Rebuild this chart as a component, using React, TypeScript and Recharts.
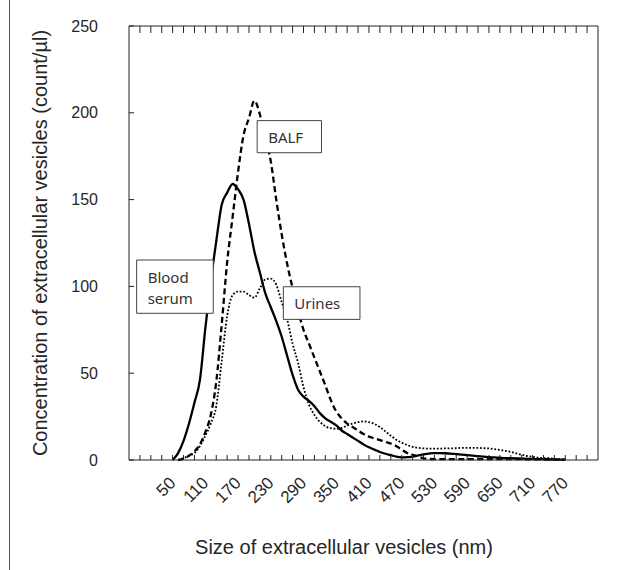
import { LineChart, Line, XAxis, YAxis, ReferenceArea, Label } from "recharts"

// particle size (nm), one point every 10 nm
const sizes = [
  50, 60, 70, 80, 90, 100, 110, 120, 130, 140,
  150, 160, 170, 180, 190, 200, 210, 220, 230, 240,
  250, 260, 270, 280, 290, 300, 310, 320, 330, 340,
  350, 360, 370, 380, 390, 400, 410, 420, 430, 440,
  450, 460, 470, 480, 490, 500, 510, 520, 530, 540,
  550, 560, 570, 580, 590, 600, 610, 620, 630, 640,
  650, 660, 670, 680, 690, 700, 710, 720, 730, 740,
  750, 760, 770,
]

const bloodSerum = [
  0, 4, 11, 21, 33, 46, 76, 103, 126, 147,
  154, 159, 156, 150, 136, 120, 108, 96, 88, 80,
  71, 60, 49, 40.5, 36.5, 34, 31, 27, 24, 22,
  20, 17, 15, 13, 11, 9, 7.3, 6, 4.6, 3.6,
  2.8, 1.9, 1.5, 1.6, 2, 2.6, 3.2, 3.7, 4, 4,
  3.9, 3.7, 3.4, 3.1, 2.8, 2.5, 2.2, 2, 1.7, 1.5,
  1.3, 1.1, 1, 0.9, 0.8, 0.7, 0.6, 0.5, 0.5, 0.4,
  0.3, 0.2, 0.1,
]

const balf = [
  null, 0, 0.8, 2.5, 5, 9, 16, 26, 45, 78,
  114, 140, 166, 187, 197, 207, 199, 186, 172, 150,
  130, 113, 99, 86, 75, 67, 59, 51, 43, 34.5,
  28, 24, 21, 19, 17, 15, 13.5, 12.5, 11.5, 10.5,
  9.5, 8, 6, 4, 3, 2, 1, 0.6, 0.5, 0.5,
  0.5, 0.5, 0.5, 0.5, 0.5, 0.5, 0.5, 0.5, 0.5, 0.5,
  0.5, 0.5, 0.5, 0.5, 0.5, 0.4, 0.4, 0.4, 0.3, 0.3,
  0.3, 0.2, 0.2,
]

const urines = [
  null, 0, 1, 2.5, 4, 8, 14, 21, 31, 57,
  83, 95, 97, 97, 95, 93.5, 99, 104, 104.5, 101,
  91, 81, 67, 56, 42, 32, 26, 22, 19.5, 18.3,
  18, 18.5, 19.8, 21, 21.8, 22.2, 21.8, 20.8, 19, 16.5,
  14, 11.7, 10, 8.6, 7.6, 7, 6.7, 6.5, 6.5, 6.5,
  6.7, 6.7, 6.8, 7, 7, 7, 7, 6.8, 6.7, 6.3,
  5.8, 5.2, 4.7, 3.8, 3, 2.3, 1.8, 1.4, 1.1, 1,
  0.7, 0.5, 0.3,
]

// minor tick marks every 20 nm, labels every 60 nm
const xTicks = [
  -10, 10, 30, 50, 70, 90, 110, 130, 150, 170, 190, 210, 230, 250, 270,
  290, 310, 330, 350, 370, 390, 410, 430, 450, 470, 490, 510, 530, 550,
  570, 590, 610, 630, 650, 670, 690, 710, 730, 750, 770, 790, 810,
]
const xLabels = [50, 110, 170, 230, 290, 350, 410, 470, 530, 590, 650, 710, 770]
const yTicks = [0, 50, 100, 150, 200, 250]

const data = sizes.map((s, i) => ({
  size: s,
  serum: bloodSerum[i],
  balf: balf[i],
  urines: urines[i],
}))

const AXIS = "#222"
const TEXT = "#262626"
const TICK_FONT = "'Liberation Sans', Arial, sans-serif"

// bottom axis: inward tick every 20 nm, rotated label every 60 nm
function SizeTick(props: any) {
  const { x, y, payload } = props
  const labelled = xLabels.includes(payload.value)
  const ax = x + 4
  const ay = y + 24
  return (
    <g>
      <line x1={x} y1={y} x2={x} y2={y - 5} stroke={AXIS} />
      {labelled && (
        <text
          x={ax}
          y={ay}
          transform={`rotate(-45 ${ax} ${ay})`}
          textAnchor="end"
          fontSize={17}
          fontFamily={TICK_FONT}
          fill={TEXT}
        >
          {payload.value}
        </text>
      )}
    </g>
  )
}

function TopTick(props: any) {
  const { x, y } = props
  return <line x1={x} y1={y} x2={x} y2={y + 7} stroke={AXIS} />
}

function ValueTick(props: any) {
  const { x, y, payload } = props
  return (
    <g>
      <line x1={x} y1={y} x2={x + 5} y2={y} stroke={AXIS} />
      <text
        x={x - 31}
        y={y + 5.5}
        textAnchor="end"
        fontSize={16}
        fontFamily={TICK_FONT}
        fill={TEXT}
      >
        {payload.value}
      </text>
    </g>
  )
}

function boxLabel(lines: string[]) {
  return (props: any) => {
    const vb = props.viewBox
    return (
      <text fontSize={15} fontFamily="'Noto Sans', sans-serif" fill="#333">
        {lines.map((l, i) => (
          <tspan key={l} x={vb.x + 11} y={vb.y + 22.5 + i * 21.5}>
            {l}
          </tspan>
        ))}
      </text>
    )
  }
}

export default function App() {
  return (
    <div style={{ position: "absolute", left: 0, top: 0, width: 631, height: 570, background: "#fff" }}>
      <div style={{ position: "absolute", left: 9, top: 0, width: 1, height: 570, background: "#555" }} />
      <LineChart
        width={631}
        height={570}
        data={data}
        margin={{ top: 25, right: 32, bottom: 0, left: 29 }}
      >
        <XAxis
          xAxisId="bottom"
          dataKey="size"
          type="number"
          domain={[-30, 830]}
          ticks={xTicks}
          interval={0}
          height={110}
          stroke={AXIS}
          tickSize={0}
          tickMargin={0}
          tickLine={false}
          tick={<SizeTick />}
        >
          <Label
            content={(p: any) => (
              <text
                x={p.viewBox.x + 215}
                y={554}
                textAnchor="middle"
                fontSize={20}
                fontFamily={TICK_FONT}
                fill={TEXT}
              >
                Size of extracellular vesicles (nm)
              </text>
            )}
          />
        </XAxis>
        <XAxis
          xAxisId="top"
          orientation="top"
          dataKey="size"
          type="number"
          domain={[-30, 830]}
          ticks={xTicks}
          interval={0}
          height={1}
          stroke={AXIS}
          tickSize={0}
          tickMargin={0}
          tickLine={false}
          tick={<TopTick />}
        />
        <YAxis
          yAxisId="left"
          domain={[0, 250]}
          ticks={yTicks}
          interval={0}
          width={100}
          stroke={AXIS}
          tickSize={0}
          tickMargin={0}
          tickLine={false}
          tick={<ValueTick />}
        >
          <Label
            content={(p: any) => {
              const cx = 47
              const cy = p.viewBox.y + p.viewBox.height / 2
              return (
                <text
                  x={cx}
                  y={cy}
                  transform={`rotate(-90 ${cx} ${cy})`}
                  textAnchor="middle"
                  fontSize={20}
                  fontFamily={TICK_FONT}
                  fill={TEXT}
                >
                  Concentration of extracellular vesicles (count/µl)
                </text>
              )
            }}
          />
        </YAxis>
        <YAxis
          yAxisId="right"
          orientation="right"
          domain={[0, 250]}
          width={1}
          stroke={AXIS}
          tick={false}
          tickLine={false}
        />
        <Line
          xAxisId="bottom"
          yAxisId="left"
          dataKey="serum"
          type="monotone"
          stroke="#000"
          strokeWidth={2.3}
          dot={false}
          activeDot={false}
          isAnimationActive={false}
        />
        <Line
          xAxisId="bottom"
          yAxisId="left"
          dataKey="balf"
          type="monotone"
          stroke="#000"
          strokeWidth={2.3}
          strokeDasharray="6 3.5"
          dot={false}
          activeDot={false}
          isAnimationActive={false}
        />
        <Line
          xAxisId="bottom"
          yAxisId="left"
          dataKey="urines"
          type="monotone"
          stroke="#000"
          strokeWidth={1.8}
          strokeDasharray="1.8 1.8"
          dot={false}
          activeDot={false}
          isAnimationActive={false}
        />
        <ReferenceArea
          xAxisId="bottom"
          yAxisId="left"
          x1={205}
          x2={323}
          y1={177}
          y2={195.5}
          fill="#fff"
          fillOpacity={1}
          stroke="#444"
          strokeWidth={1}
          zIndex={1500}
          label={boxLabel(["BALF"])}
        />
        <ReferenceArea
          xAxisId="bottom"
          yAxisId="left"
          x1={-16}
          x2={124.5}
          y1={84.5}
          y2={115.2}
          fill="#fff"
          fillOpacity={1}
          stroke="#444"
          strokeWidth={1}
          zIndex={1500}
          label={boxLabel(["Blood", "serum"])}
        />
        <ReferenceArea
          xAxisId="bottom"
          yAxisId="left"
          x1={253}
          x2={393.5}
          y1={81}
          y2={99.8}
          fill="#fff"
          fillOpacity={1}
          stroke="#444"
          strokeWidth={1}
          zIndex={1500}
          label={boxLabel(["Urines"])}
        />
      </LineChart>
    </div>
  )
}
